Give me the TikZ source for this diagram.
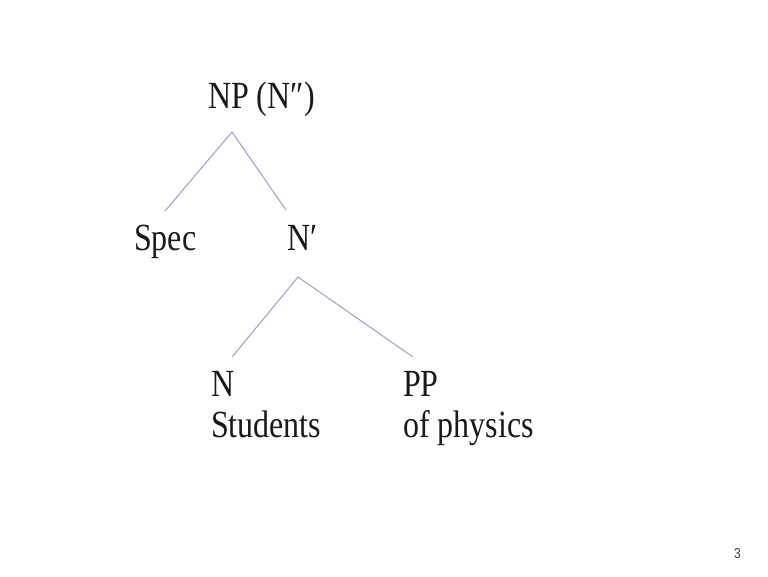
\documentclass[tikz,border=0pt]{standalone}
\usepackage{graphicx}
\usepackage{fontspec}
\setmainfont{Liberation Serif}
\newfontfamily\numfont{Liberation Sans}
\newcommand{\tall}[1]{\scalebox{1}[1.2]{#1}}
\definecolor{treeline}{RGB}{150,162,190}
\definecolor{pagenum}{RGB}{60,60,60}
\definecolor{ink}{RGB}{25,25,25}
\tikzset{
  lbl/.style={anchor=base west, inner sep=0pt, outer sep=0pt, text=ink, font=\fontsize{32}{38}\selectfont},
  branch/.style={draw=treeline, line width=1pt},
}
\begin{document}
\begin{tikzpicture}[x=1pt,y=-1pt]
\useasboundingbox[fill=white] (0,0) rectangle (768,576);
% labels
\node[lbl] (np) at (208,108) {\tall{NP (N″)}};
\node[lbl] (spec) at (134,250) {\tall{Spec}};
\node[lbl] (nbar) at (287,250) {\tall{N′}};
\node[lbl] (n) at (211,396) {\tall{N}};
\node[lbl] (students) at (211,437) {\tall{Students}};
\node[lbl] (pp) at (403,396) {\tall{PP}};
\node[lbl] (physics) at (403,437) {\tall{of physics}};
\node[anchor=base west, inner sep=0pt, text=pagenum, font=\numfont\fontsize{12}{14}\selectfont] (page) at (734,558) {\tall{3}};
% branch points
\coordinate (npfoot) at (232,132);
\coordinate (specTop) at (165,211);
\coordinate (nbarTop) at (286,210);
\coordinate (nbarfoot) at (298,277);
\coordinate (nTop) at (232,357);
\coordinate (ppTop) at (413,357);
% connectors
\draw[branch] (specTop) -- (npfoot) -- (nbarTop);
\draw[branch] (nTop) -- (nbarfoot) -- (ppTop);
\end{tikzpicture}
\end{document}
